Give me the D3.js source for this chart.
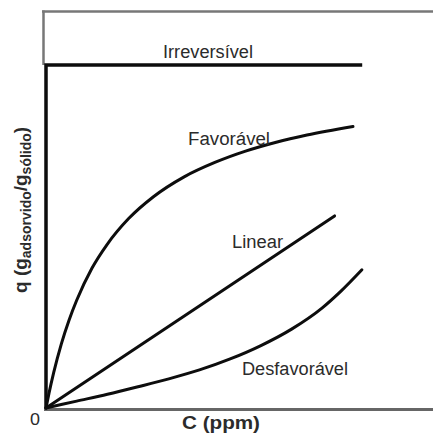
<!DOCTYPE html>
<html><head><meta charset="utf-8">
<script src="https://cdn.jsdelivr.net/npm/d3@7"></script>
<style>body{margin:0;background:#fff}svg{display:block}text{font-family:"Liberation Sans",Arial,sans-serif;fill:#2b2b2b}</style>
</head><body>
<script>
// C (ppm) and q values (arbitrary units, 0-100)
const favC = [0,1,2.5,5,7.5,10,15,20,27,35,45,55,65,75,85,100];
const favQ = [0,4.4,10.3,18.7,25.6,31.4,40.8,47.8,55.3,61.6,67.4,71.6,74.9,77.5,79.6,82.1];
const linC = [0,94];
const linQ = [0,56];
const desC = [0,10,20,30,40,50,60,70,80,90,96,102.9];
const desQ = [0,2.0,4.0,6.2,8.5,11.1,14.3,18.2,23.0,29.2,34.0,40.3];
const irrC = [0,0,103];
const irrQ = [0,100,100];
const originLabel = "0";
const xTitle = "C (ppm)";

const W=433,H=441;
const svg=d3.select("body").append("svg").attr("width",W).attr("height",H);
const x=d3.scaleLinear().domain([0,100]).range([46,353]);
const y=d3.scaleLinear().domain([0,100]).range([408,65]);

// frame (top and left, gray)
svg.append("line").attr("x1",42).attr("x2",W).attr("y1",11.5).attr("y2",11.5).attr("stroke","#777").attr("stroke-width",2.5);
svg.append("line").attr("x1",43.5).attr("x2",43.5).attr("y1",10.5).attr("y2",y(100)).attr("stroke","#777").attr("stroke-width",2.5);
// bottom axis
svg.append("line").attr("x1",x(0)-2).attr("x2",W).attr("y1",y(0)+1.5).attr("y2",y(0)+1.5).attr("stroke","#666").attr("stroke-width",3);

const zip=(a,b)=>a.map((v,i)=>[v,b[i]]);
const mk=c=>d3.line().x(d=>x(d[0])).y(d=>y(d[1])).curve(c);
const g=svg.append("g").attr("fill","none").attr("stroke","#0d0d0d").attr("stroke-width",3).attr("stroke-linecap","round");
g.append("path").attr("d",mk(d3.curveLinear)(zip(irrC,irrQ))).attr("stroke-linecap","butt").attr("stroke-width",3.5);
g.append("path").attr("d",mk(d3.curveMonotoneX)(zip(favC,favQ)));
g.append("path").attr("d",mk(d3.curveLinear)(zip(linC,linQ)));
g.append("path").attr("d",mk(d3.curveMonotoneX)(zip(desC,desQ)));

function lab(t,x0,yb,len,size,bold){
  return svg.append("text").attr("x",x0).attr("y",yb).attr("font-size",size)
    .attr("font-weight",bold?"bold":"normal").attr("textLength",len).attr("lengthAdjust","spacingAndGlyphs").text(t);
}
lab("Irreversível",163,58,90,18);
lab("Favorável",188,145,82,18);
lab("Linear",232,248,51,18);
lab("Desfavorável",242,375,106,18);
lab(xTitle,182,429,78,18,true);
lab(originLabel,30,425,10,17,false);

// y title
const yt=svg.append("text").attr("transform","translate(27,293) rotate(-90)")
  .attr("font-weight","bold").attr("font-size",19);
yt.append("tspan").text("q (g");
yt.append("tspan").attr("font-size",14).attr("dy",4).text("adsorvido");
yt.append("tspan").attr("dy",-4).text("/g");
yt.append("tspan").attr("font-size",14).attr("dy",4).text("sólido");
yt.append("tspan").attr("dy",-4).text(")");
</script>
</body></html>
